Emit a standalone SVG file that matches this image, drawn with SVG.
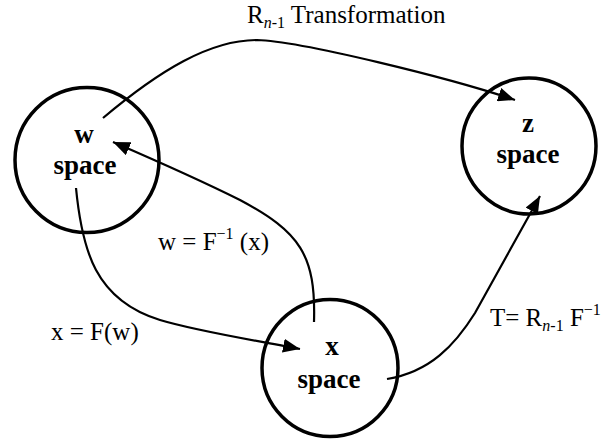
<svg xmlns="http://www.w3.org/2000/svg" width="609" height="441" viewBox="0 0 609 441">
<style>
.node{fill:none;stroke:#000;stroke-width:3.5}
.nl{font-family:"Liberation Serif","Times New Roman",serif;font-weight:bold;font-size:27px;text-anchor:middle;fill:#000}
.lbl{font-family:"Liberation Serif","Times New Roman",serif;font-size:25px;fill:#000}
.sub{font-size:16px}
.conn{fill:none;stroke:#000;stroke-width:2.2}
</style>
<defs>
<marker id="ah" markerUnits="userSpaceOnUse" markerWidth="18" markerHeight="14" refX="17" refY="7" orient="auto">
<path d="M0,0 L17,7 L0,14 Z" fill="#000"/>
</marker>
</defs>
<rect width="609" height="441" fill="#fff"/>
<g id="connectors">
<path class="conn" d="M103,118 C160,70 210,40 257,40 C300,41 450,78 515,100" marker-end="url(#ah)"/>
<path class="conn" d="M314,322 C316,255 300,232 240,200 C200,180 150,158 113,142" marker-end="url(#ah)"/>
<path class="conn" d="M76,188 C82,250 95,300 160,320 C200,332 260,341 300,349" marker-end="url(#ah)"/>
<path class="conn" d="M387,379 C430,372 455,345 475,313 L540,196" marker-end="url(#ah)"/>
</g>
<g id="node-w">
<ellipse class="node" cx="87" cy="160" rx="72" ry="72.5"/>
<text class="nl" x="84" y="143">w</text>
<text class="nl" x="85" y="174">space</text>
</g>
<g id="node-z">
<ellipse class="node" cx="529" cy="146" rx="67" ry="68"/>
<text class="nl" x="528" y="132">z</text>
<text class="nl" x="528" y="163">space</text>
</g>
<g id="node-x">
<ellipse class="node" cx="330" cy="368" rx="68" ry="68.5"/>
<text class="nl" x="332" y="355">x</text>
<text class="nl" x="329" y="388">space</text>
</g>
<g id="labels">
<text class="lbl" x="247" y="23">R<tspan class="sub" dy="5"><tspan font-style="italic">n</tspan>-1</tspan><tspan dy="-5"> Transformation</tspan></text>
<text class="lbl" x="158" y="250">w = F<tspan class="sub" dy="-11">−1</tspan><tspan dy="11"> (x)</tspan></text>
<text class="lbl" x="51" y="340">x = F(w)</text>
<text class="lbl" x="490" y="326">T= R<tspan class="sub" dy="5"><tspan font-style="italic">n</tspan>-1</tspan><tspan dy="-5"> F</tspan><tspan class="sub" dy="-11">−1</tspan></text>
</g>
</svg>
